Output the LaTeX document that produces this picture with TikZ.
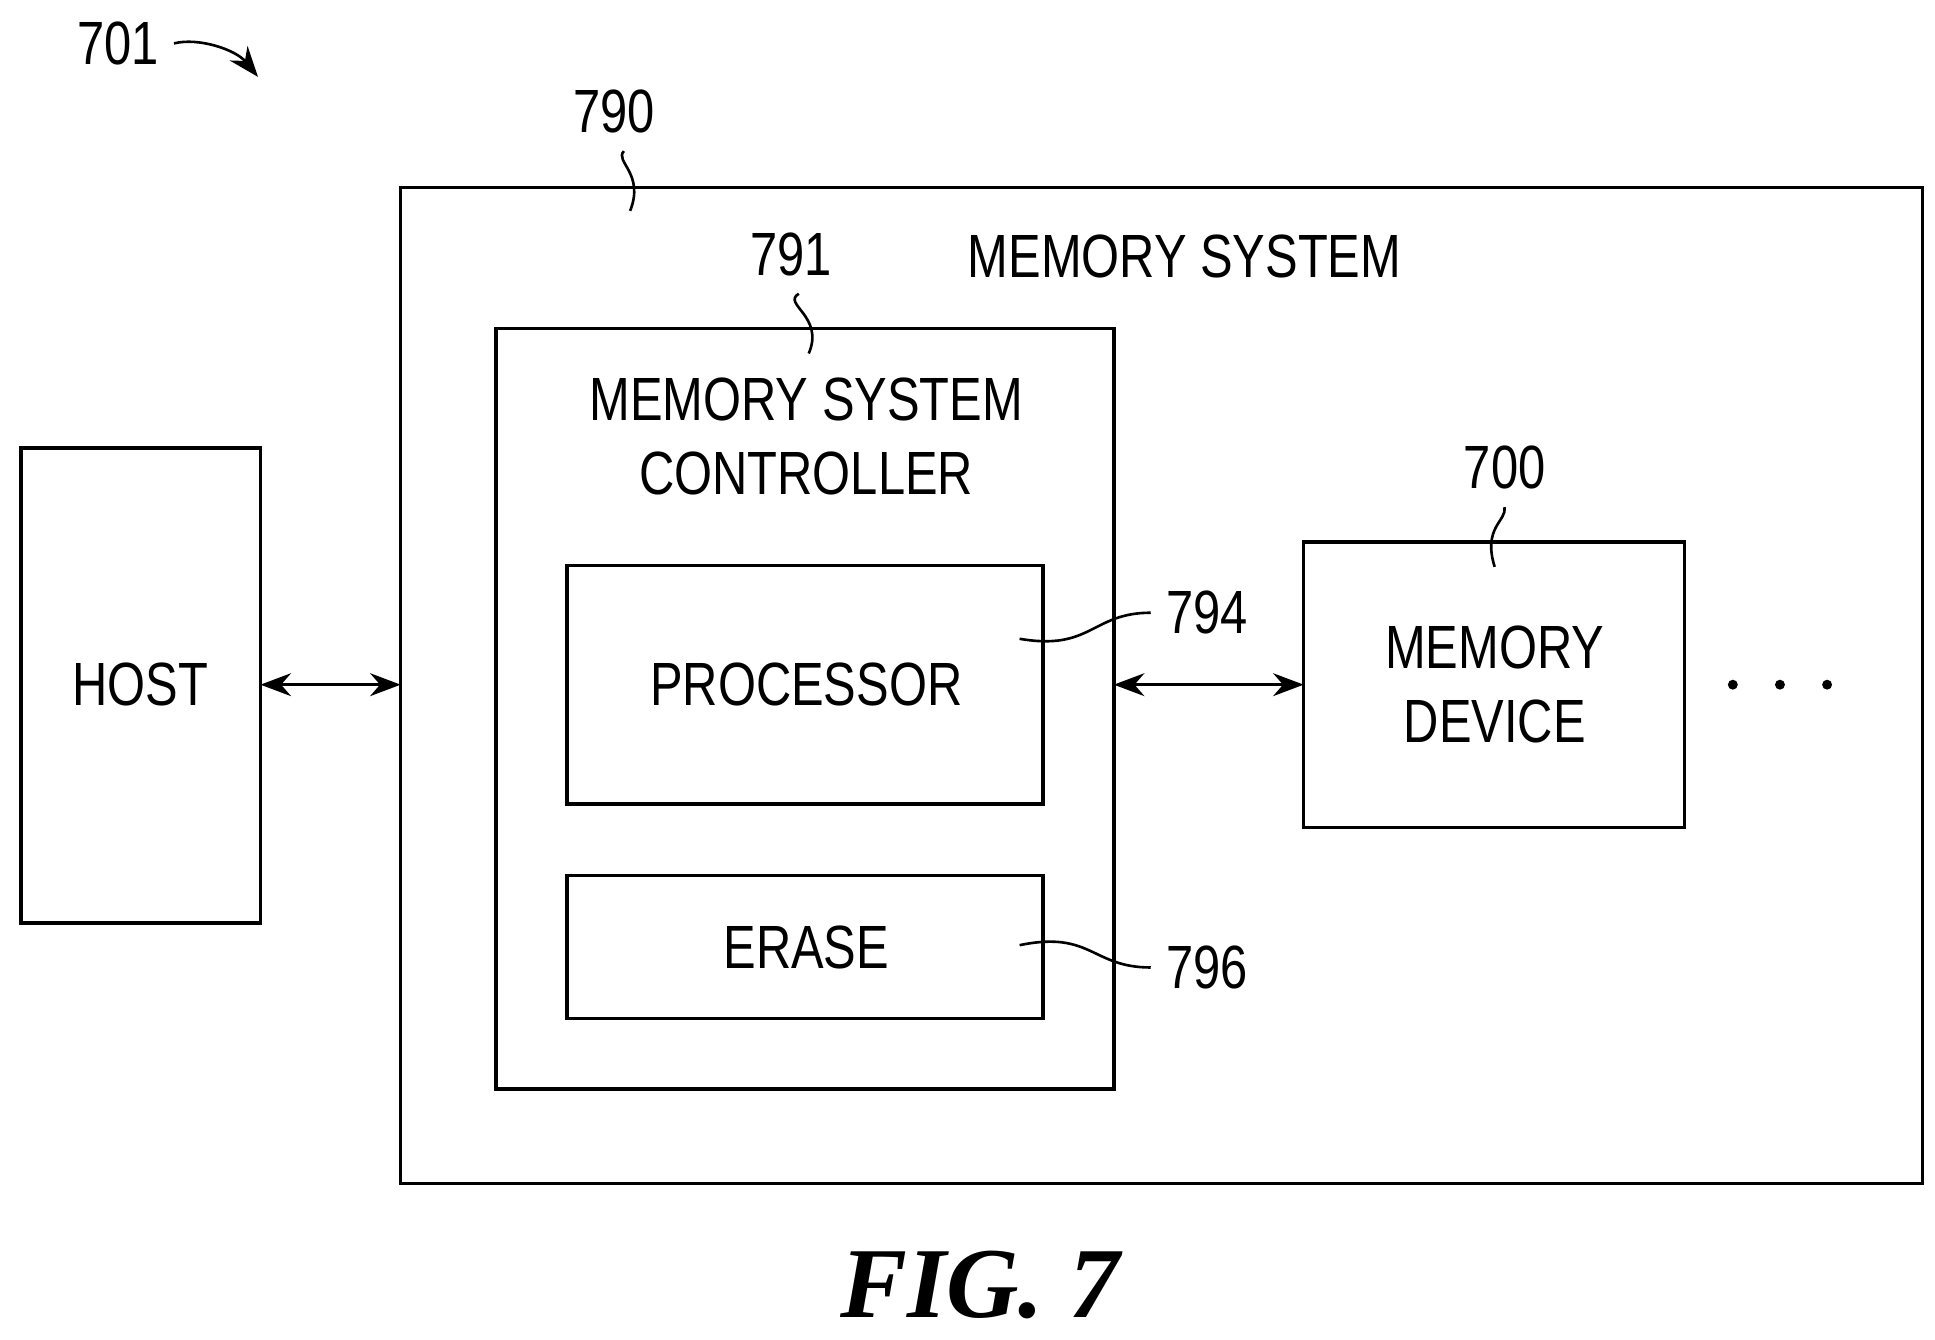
\documentclass[tikz,border=0pt]{standalone}
\usepackage{fontspec}
\setmainfont{Liberation Sans}[FakeStretch=0.8]
\newfontfamily\figfont{Liberation Serif}
\usetikzlibrary{arrows.meta,positioning}
\tikzset{
	blk/.style={draw, thick, inner sep=0},
	lbl/.style={font=\fontsize{14}{17}\selectfont, align=center},
	lead/.style={semithick},
	link/.style={semithick, {Stealth[length=7pt]}-{Stealth[length=7pt]}}
}
\begin{document}
\begin{tikzpicture}[x=0.01cm,y=-0.01cm]
	\useasboundingbox (0,0) rectangle (1560,1080);
	% boxes
	\draw[blk] (17,361) rectangle (210,744);
	\node[lbl] (host) at (113,552) {HOST};
	\draw[blk] (323,151) rectangle (1550,954);
	\coordinate (sysw) at (323,552);
	\node[lbl] (sys) at (955,207) {MEMORY SYSTEM};
	\draw[blk] (400,265) rectangle (898,878);
	\coordinate (ctrle) at (898,552);
	\node[lbl] (ctrl) at (650,352) {MEMORY SYSTEM\\CONTROLLER};
	\draw[blk] (457,456) rectangle (841,648);
	\node[lbl] (proc) at (650,552) {PROCESSOR};
	\draw[blk] (457,706) rectangle (841,821);
	\node[lbl] (erase) at (650,764) {ERASE};
	\draw[blk] (1051,437) rectangle (1358,667);
	\coordinate (devw) at (1051,552);
	\node[lbl] (dev) at (1205,552) {MEMORY\\DEVICE};
	% links
	\coordinate (hoste) at (210,552);
	\draw[link] (hoste) -- (sysw);
	\draw[link] (ctrle) -- (devw);
	\foreach \x in {1397,1435,1473}
		\fill (\x,552) circle (4);
	% reference numerals
	\node[lbl] (n701) at (95,35) {701};
	\coordinate (a701) at (208,62);
	\draw[lead,-{Stealth[length=7pt]}] (n701.east) .. controls (160,30) and (190,40) .. (a701);
	\node[lbl] (n790) at (495,90) {790};
	\draw[lead] (n790.south) ++(8,2) .. controls (495,130) and (520,140) .. (508,170);
	\node[lbl] (n791) at (638,205) {791};
	\draw[lead] (n791.south) ++(6,2) .. controls (630,245) and (665,255) .. (652,285);
	\node[lbl] (n700) at (1213,377) {700};
	\draw[lead] (n700.south) ++(0,2) .. controls (1215,420) and (1195,425) .. (1205,457);
	\node[lbl] (n794) at (973,494) {794};
	\draw[lead] (n794.west) .. controls (880,494) and (880,525) .. (822,515);
	\node[lbl] (n796) at (973,780) {796};
	\draw[lead] (n796.west) .. controls (880,780) and (880,750) .. (822,762);
	\node[font=\figfont\bfseries\itshape\fontsize{23}{28}\selectfont] (fig) at (790,1036) {FIG. 7};
\end{tikzpicture}
\end{document}
